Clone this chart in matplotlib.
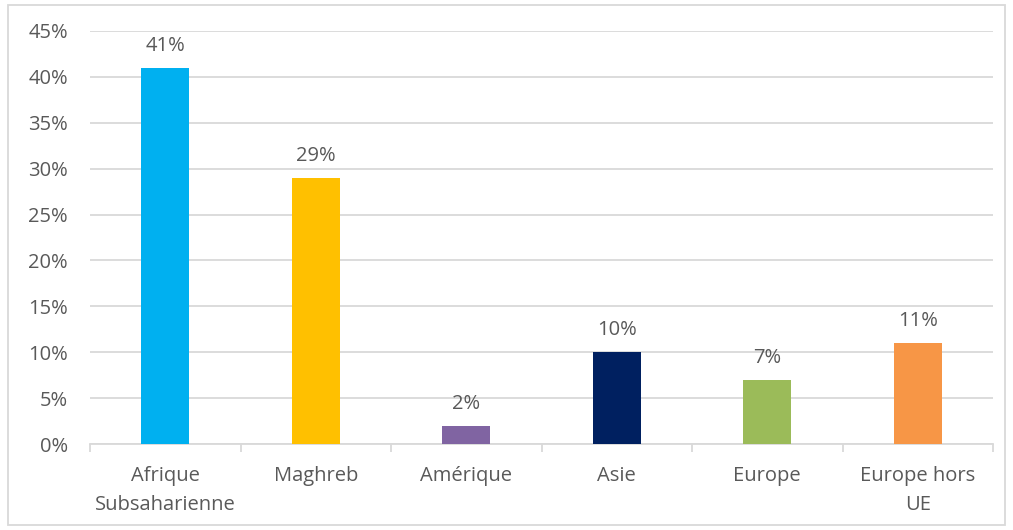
import matplotlib
matplotlib.use("Agg")
import matplotlib.pyplot as plt
from matplotlib.patches import Rectangle
from matplotlib.ticker import FixedLocator, NullFormatter

categories = ["Afrique\nSubsaharienne", "Maghreb", "Amérique", "Asie", "Europe", "Europe hors\nUE"]
values = [0.41, 0.29, 0.02, 0.10, 0.07, 0.11]
labels = ["41%", "29%", "2%", "10%", "7%", "11%"]
colors = ["#00B0F0", "#FFC000", "#8064A2", "#002060", "#9BBB59", "#F79646"]
yticks = [0, 0.05, 0.10, 0.15, 0.20, 0.25, 0.30, 0.35, 0.40, 0.45]

plt.rcParams['font.family'] = ['Open Sans', 'DejaVu Sans']
txt = "#595959"
grid = "#D9D9D9"
fs = 14.5

fig = plt.figure(figsize=(10.13, 5.30), dpi=100)
ax = fig.add_axes([90/1013, 1-444/530, 903/1013, 413/530])

x = list(range(len(categories)))
ax.bar(x, values, width=0.32, color=colors, zorder=3)
for xi, v, lab in zip(x, values, labels):
    ax.text(xi, v + 0.013, lab, ha="center", va="bottom", fontsize=fs, color=txt)

ax.set_xlim(-0.5, len(categories) - 0.5)
ax.set_ylim(0, 0.45)
ax.set_yticks(yticks)
ax.set_yticklabels([f"{int(round(t*100))}%" for t in yticks], fontsize=fs, color=txt)
ax.yaxis.grid(True, color=grid, linewidth=1.3, zorder=0)
ax.tick_params(axis="y", length=0, pad=16)

ax.set_xticks(x)
ax.set_xticklabels(categories, fontsize=fs, color=txt, linespacing=1.6)
ax.tick_params(axis="x", which="major", length=0, pad=16)
ax.xaxis.set_minor_locator(FixedLocator([i - 0.5 for i in range(len(categories) + 1)]))
ax.xaxis.set_minor_formatter(NullFormatter())
ax.tick_params(axis="x", which="minor", length=6, color=grid, width=1.3)

for s in ["top", "right", "left"]:
    ax.spines[s].set_visible(False)
ax.spines["bottom"].set_color(grid)
ax.spines["bottom"].set_linewidth(1.3)

fig.patches.append(Rectangle((8/1013, 5/530), 997/1013, 520/530, transform=fig.transFigure,
                             fill=False, edgecolor=grid, linewidth=1.3))

fig.savefig("out.png", dpi=100)
